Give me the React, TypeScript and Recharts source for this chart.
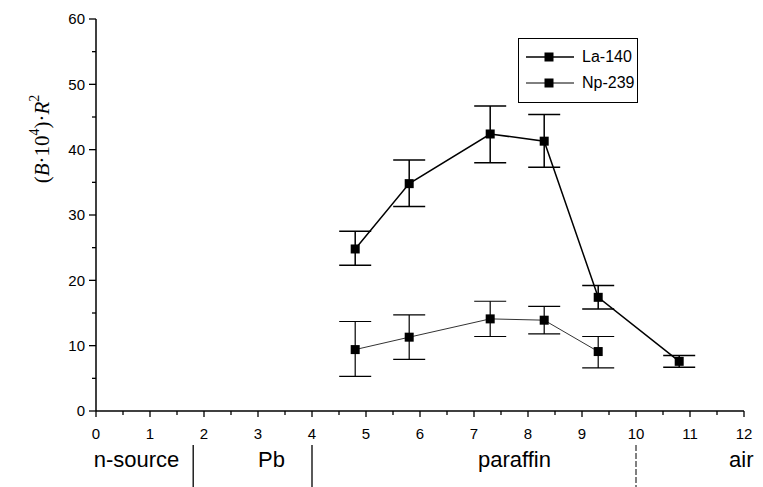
import { LineChart, Line, XAxis, YAxis, ErrorBar, Legend } from "recharts";

const laPositions = [4.8, 5.8, 7.3, 8.3, 9.3, 10.8];
const la140 = [24.8, 34.8, 42.4, 41.3, 17.4, 7.6];
const la140Low = [22.3, 31.3, 38.0, 37.3, 15.6, 6.7];
const la140High = [27.5, 38.4, 46.7, 45.4, 19.2, 8.5];

const npPositions = [4.8, 5.8, 7.3, 8.3, 9.3];
const np239 = [9.4, 11.3, 14.1, 13.9, 9.1];
const np239Low = [5.3, 7.9, 11.4, 11.8, 6.6];
const np239High = [13.7, 14.7, 16.8, 16.0, 11.4];

const xTicks = [0, 0.5, 1, 1.5, 2, 2.5, 3, 3.5, 4, 4.5, 5, 5.5, 6, 6.5, 7, 7.5, 8, 8.5, 9, 9.5, 10, 10.5, 11, 11.5, 12];
const yTicks = [0, 5, 10, 15, 20, 25, 30, 35, 40, 45, 50, 55, 60];

const regionNames = ["n-source", "Pb", "paraffin", "air"];
const regionCenters = [0.75, 3.25, 7.75, 11.95];
const regionBounds = [1.8, 4, 10];

const allXTicks = Array.from(new Set([...xTicks, ...regionCenters, ...regionBounds])).sort((a, b) => a - b);

const FONT = "'Liberation Sans', Arial, sans-serif";

const toRows = (xs: number[], ys: number[], lo: number[], hi: number[]) =>
  xs.map((x, i) => ({ x, y: ys[i], err: [ys[i] - lo[i], hi[i] - ys[i]] }));

const laData = toRows(laPositions, la140, la140Low, la140High);
const npData = toRows(npPositions, np239, np239Low, np239High);

const SquareDot = (props: any) => {
  const { cx, cy, index } = props;
  if (cx == null || cy == null) return null;
  return <rect key={index} x={cx - 4.5} y={cy - 4.5} width={9} height={9} fill="#000" />;
};

// one axis carries the number ticks, the material labels and the boundaries
const XTick = ({ x, y, payload }: any) => {
  const v = payload.value;
  const isTick = xTicks.includes(v);
  const major = Number.isInteger(v);
  const b = regionBounds.indexOf(v);
  const r = regionCenters.indexOf(v);
  return (
    <g>
      {isTick && <line x1={x} x2={x} y1={y} y2={y + (major ? 6 : 4)} stroke="#000" strokeWidth={1.3} />}
      {isTick && major && (
        <text x={x} y={y + 28} textAnchor="middle" fontSize={15} fontFamily={FONT} fill="#000">
          {v}
        </text>
      )}
      {b >= 0 && (
        <line
          x1={x}
          x2={x}
          y1={y + 34}
          y2={y + 76}
          stroke="#000"
          strokeWidth={b === 2 ? 1 : 1.3}
          strokeDasharray={b === 2 ? "6 2" : undefined}
        />
      )}
      {r >= 0 && (
        <text x={x} y={y + 56} textAnchor="middle" fontSize={22} fontFamily={FONT} fill="#000">
          {regionNames[r]}
        </text>
      )}
    </g>
  );
};

const YTick = ({ x, y, payload }: any) => {
  const v = payload.value;
  const major = v % 10 === 0;
  return (
    <g>
      <line x1={x} x2={x - (major ? 7 : 4)} y1={y} y2={y} stroke="#000" strokeWidth={1.3} />
      {major && (
        <text x={x - 11} y={y} dy="0.36em" textAnchor="end" fontSize={15} fontFamily={FONT} fill="#000">
          {v}
        </text>
      )}
    </g>
  );
};

const YLabel = () => (
  <text
    x={42}
    y={139}
    transform="rotate(-90, 42, 139)"
    textAnchor="middle"
    dominantBaseline="central"
    fontFamily="'Liberation Serif', 'Times New Roman', serif"
    fontSize={21}
    fill="#000"
  >
    (<tspan fontStyle="italic">B</tspan>·10
    <tspan fontSize={14} dy={-8}>4</tspan>
    <tspan dy={8}>)·</tspan>
    <tspan fontStyle="italic">R</tspan>
    <tspan fontSize={14} dy={-8}>2</tspan>
  </text>
);

const legendItems = [
  { name: "La-140", width: 1.5 },
  { name: "Np-239", width: 1 },
];

const LegendBox = () => (
  <div
    style={{
      border: "1.5px solid #000",
      width: 120,
      height: 65,
      boxSizing: "border-box",
      fontFamily: FONT,
      fontSize: 16,
      paddingTop: 5,
      background: "#fff",
      whiteSpace: "nowrap",
    }}
  >
    {legendItems.map((it) => (
      <div key={it.name} style={{ display: "flex", alignItems: "center", height: 26 }}>
        <svg width={63} height={20} style={{ flex: "none" }}>
          <line x1={7} x2={55} y1={10} y2={10} stroke="#000" strokeWidth={it.width} />
          <rect x={25.5} y={5.5} width={9} height={9} fill="#000" />
        </svg>
        <span>{it.name}</span>
      </div>
    ))}
  </div>
);

export default function App() {
  return (
    <div style={{ position: "absolute", left: 0, top: 0, background: "#fff" }}>
      <LineChart width={763} height={487} margin={{ top: 19, right: 19, left: 0, bottom: 0 }}>
        <XAxis
          type="number"
          dataKey="x"
          domain={[0, 12]}
          ticks={allXTicks}
          interval={0}
          height={76}
          tickSize={0}
          tickMargin={0}
          tickLine={false}
          tick={<XTick />}
          axisLine={{ stroke: "#000", strokeWidth: 1.5 }}
        />
        <YAxis
          type="number"
          domain={[0, 60]}
          ticks={yTicks}
          interval={0}
          width={96}
          tickSize={0}
          tickMargin={0}
          tickLine={false}
          tick={<YTick />}
          axisLine={{ stroke: "#000", strokeWidth: 1.5 }}
          label={<YLabel />}
        />
        <Legend
          layout="horizontal"
          verticalAlign="middle"
          align="center"
          content={<LegendBox />}
          wrapperStyle={{ position: "absolute", left: 518, top: 38, width: 120, height: 65 }}
        />
        <Line
          data={laData}
          dataKey="y"
          name="La-140"
          type="linear"
          stroke="#000"
          strokeWidth={1.5}
          dot={<SquareDot />}
          activeDot={false}
          isAnimationActive={false}
        >
          <ErrorBar dataKey="err" width={16} stroke="#000" strokeWidth={1.5} direction="y" isAnimationActive={false} />
        </Line>
        <Line
          data={npData}
          dataKey="y"
          name="Np-239"
          type="linear"
          stroke="#333"
          strokeWidth={1}
          dot={<SquareDot />}
          activeDot={false}
          isAnimationActive={false}
        >
          <ErrorBar dataKey="err" width={16} stroke="#000" strokeWidth={1.2} direction="y" isAnimationActive={false} />
        </Line>
      </LineChart>
    </div>
  );
}
